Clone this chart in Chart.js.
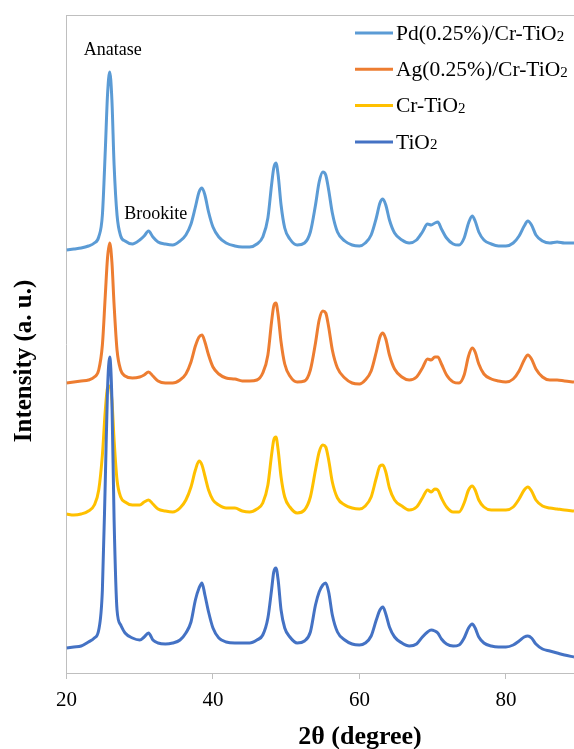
<!DOCTYPE html>
<html lang="en">
<head>
<meta charset="UTF-8">
<title>XRD patterns</title>
<script src="https://cdn.jsdelivr.net/npm/chart.js"></script>
<style>
  html, body { margin: 0; padding: 0; background: #fff; overflow: hidden; }
</style>
</head>
<body>
<canvas id="xrd" width="574" height="749"></canvas>
<script>
// 2θ positions (degree)
const twoTheta = [
  20, 21, 22, 23, 23.8, 24.4, 24.9, 25.3, 25.6, 25.9,
  26.2, 26.5, 26.9, 27.4, 28, 29, 30, 30.6, 31.2, 31.8,
  32.5, 33.5, 34.5, 35.5, 36.3, 37, 37.6, 38.1, 38.5, 38.9,
  39.4, 40, 40.8, 41.8, 43, 44, 45, 46, 46.8, 47.5,
  48, 48.3, 48.6, 48.9, 49.3, 49.8, 50.5, 51.5, 52.5, 53.3,
  54, 54.5, 55, 55.4, 55.8, 56.3, 57, 58, 59, 60,
  60.8, 61.6, 62.3, 62.8, 63.2, 63.6, 64.1, 64.8, 65.8, 66.8,
  67.8, 68.6, 69.3, 69.8, 70.3, 70.7, 71.2, 71.9, 72.8, 73.6,
  74.3, 74.9, 75.4, 75.8, 76.3, 77, 78, 79, 80, 81,
  81.8, 82.5, 83, 83.5, 84.1, 85, 86, 87, 88, 89.3
];

// intensities (a. u.), patterns already offset for stacking
const pdCrTiO2 = [
  423, 424, 425, 427, 430, 436, 458, 523, 578, 601,
  573, 508, 458, 437, 432, 429, 433, 437, 442, 436,
  431, 429, 428, 432, 438, 449, 466, 481, 485, 478,
  461, 446, 436, 430, 427, 426, 426, 429, 436, 455,
  488, 505, 510, 498, 468, 445, 434, 428, 430, 441,
  468, 491, 501, 498, 483, 460, 441, 432, 428, 427,
  430, 438, 455, 470, 474, 468, 453, 440, 433, 430,
  433, 441, 449, 448, 450, 451, 444, 435, 429, 428,
  435, 450, 457, 452, 441, 433, 429, 427, 427, 430,
  437, 447, 452, 448, 438, 432, 430, 431, 430, 430
];
const agCrTiO2 = [
  290, 291, 292, 293, 296, 303, 328, 378, 415, 430,
  411, 368, 323, 303, 297, 295, 296, 298, 301, 297,
  292, 290, 290, 293, 299, 311, 327, 336, 338, 331,
  318, 306, 299, 295, 294, 292, 292, 293, 300, 318,
  351, 367, 370, 358, 331, 309, 297, 291, 292, 303,
  330, 353, 362, 360, 346, 323, 305, 295, 290, 289,
  293, 302, 321, 336, 340, 334, 318, 304, 296, 293,
  296, 305, 314, 313, 316, 316, 309, 298, 291, 290,
  298, 317, 325, 321, 309, 299, 294, 292, 291, 294,
  302, 313, 318, 314, 304, 296, 293, 293, 292, 291
];
const crTiO2 = [
  159, 158, 159, 162, 168, 183, 218, 263, 285, 287,
  273, 233, 193, 176, 171, 168, 168, 171, 173, 169,
  164, 162, 161, 165, 173, 186, 203, 212, 208, 197,
  183, 173, 168, 165, 165, 162, 161, 164, 170, 188,
  218, 233, 236, 223, 196, 176, 166, 160, 163, 176,
  203, 221, 228, 226, 213, 191, 175, 168, 165, 164,
  167, 176, 195, 207, 208, 201, 185, 173, 167, 163,
  166, 175, 183, 181, 184, 183, 175, 166, 161, 161,
  170, 183, 187, 183, 173, 166, 163, 163, 163, 166,
  174, 183, 186, 182, 173, 167, 165, 164, 163, 162
];
const tio2 = [
  25, 26, 27, 31, 35, 43, 83, 193, 283, 316,
  273, 153, 63, 48, 40, 35, 33, 36, 40, 33,
  30, 29, 30, 33, 40, 51, 73, 85, 90, 78,
  61, 45, 35, 31, 30, 30, 30, 33, 38, 55,
  83, 101, 105, 93, 63, 45, 36, 30, 32, 41,
  68, 81, 88, 90, 81, 58, 41, 33, 29, 28,
  30, 37, 53, 63, 66, 59, 46, 36, 30, 27,
  29, 36, 41, 43, 42, 40, 34, 29, 27, 28,
  35, 45, 49, 45, 36, 30, 27, 26, 26, 28,
  32, 36, 37, 35, 29, 24, 22, 20, 18, 16
];

const xTicks = [20, 40, 60, 80];
const seriesNames = ['Pd(0.25%)/Cr-TiO₂', 'Ag(0.25%)/Cr-TiO₂', 'Cr-TiO₂', 'TiO₂'];
const seriesColors = ['#5B9BD5', '#ED7D31', '#FFC000', '#4472C4'];
const seriesValues = [pdCrTiO2, agCrTiO2, crTiO2, tio2];

const SERIF = '"Liberation Serif", "Times New Roman", serif';

function points(vals) {
  return twoTheta.map((t, i) => ({ x: t, y: vals[i] }));
}

// draws text, rendering "₂" as a small lowered 2
function subText(ctx, str, x, y, size) {
  const parts = str.split('₂');
  parts.forEach((p, i) => {
    ctx.font = size + 'px ' + SERIF;
    ctx.fillText(p, x, y);
    x += ctx.measureText(p).width;
    if (i < parts.length - 1) {
      ctx.font = Math.round(size * 0.68) + 'px ' + SERIF;
      ctx.fillText('2', x, y + size * 0.12);
      x += ctx.measureText('2').width;
    }
  });
}

const decor = {
  id: 'decor',
  afterDraw(chart) {
    const { ctx, chartArea: a, scales: { x, y } } = chart;
    ctx.save();
    // top frame line
    ctx.strokeStyle = '#BFBFBF';
    ctx.lineWidth = 1;
    ctx.beginPath();
    ctx.moveTo(a.left, Math.round(a.top) + 0.5);
    ctx.lineTo(a.right, Math.round(a.top) + 0.5);
    ctx.stroke();

    // peak annotations
    ctx.fillStyle = '#000';
    ctx.textAlign = 'center';
    ctx.textBaseline = 'middle';
    ctx.font = '18px ' + SERIF;
    ctx.fillText('Anatase', x.getPixelForValue(26.3), y.getPixelForValue(623));
    ctx.fillText('Brookite', x.getPixelForValue(32.2), y.getPixelForValue(459));

    // axis titles
    ctx.font = 'bold 26px ' + SERIF;
    ctx.fillText('2θ (degree)', 360, 737);
    ctx.save();
    ctx.translate(25, 361);
    ctx.rotate(-Math.PI / 2);
    ctx.font = 'bold 25px ' + SERIF;
    ctx.fillText('Intensity (a. u.)', 0, 0);
    ctx.restore();

    // legend
    ctx.textAlign = 'left';
    chart.data.datasets.forEach((ds, i) => {
      const ly = 33 + i * 36.3;
      ctx.strokeStyle = ds.borderColor;
      ctx.lineWidth = 3;
      ctx.beginPath();
      ctx.moveTo(355, ly);
      ctx.lineTo(393, ly);
      ctx.stroke();
      ctx.fillStyle = '#000';
      subText(ctx, ds.label, 396, ly + 1, 21.5);
    });
    ctx.restore();
  }
};

new Chart(document.getElementById('xrd'), {
  type: 'line',
  data: {
    datasets: seriesNames.map((name, i) => ({
      label: name,
      data: points(seriesValues[i]),
      borderColor: seriesColors[i],
      backgroundColor: seriesColors[i],
      borderWidth: 3,
      pointRadius: 0,
      cubicInterpolationMode: 'monotone',
      fill: false,
      order: 3 - i
    }))
  },
  options: {
    responsive: false,
    animation: false,
    layout: { padding: { left: 66.5, top: 15, right: 0, bottom: 0 } },
    plugins: { legend: { display: false }, tooltip: { enabled: false } },
    scales: {
      x: {
        type: 'linear',
        min: 20,
        max: 89.3,
        afterBuildTicks: s => { s.ticks = xTicks.map(v => ({ value: v })); },
        afterFit: s => { s.height = 76; },
        grid: { display: true, drawOnChartArea: false, drawTicks: true, tickLength: 6, color: '#BFBFBF' },
        border: { display: true, color: '#BFBFBF', width: 1 },
        ticks: { color: '#000', padding: 9, maxRotation: 0, font: { family: SERIF, size: 21 } }
      },
      y: {
        min: 0,
        max: 658,
        afterFit: s => { s.width = 0; },
        grid: { display: false },
        border: { display: true, color: '#BFBFBF', width: 1 },
        ticks: { display: false }
      }
    }
  },
  plugins: [decor]
});
</script>
</body>
</html>
